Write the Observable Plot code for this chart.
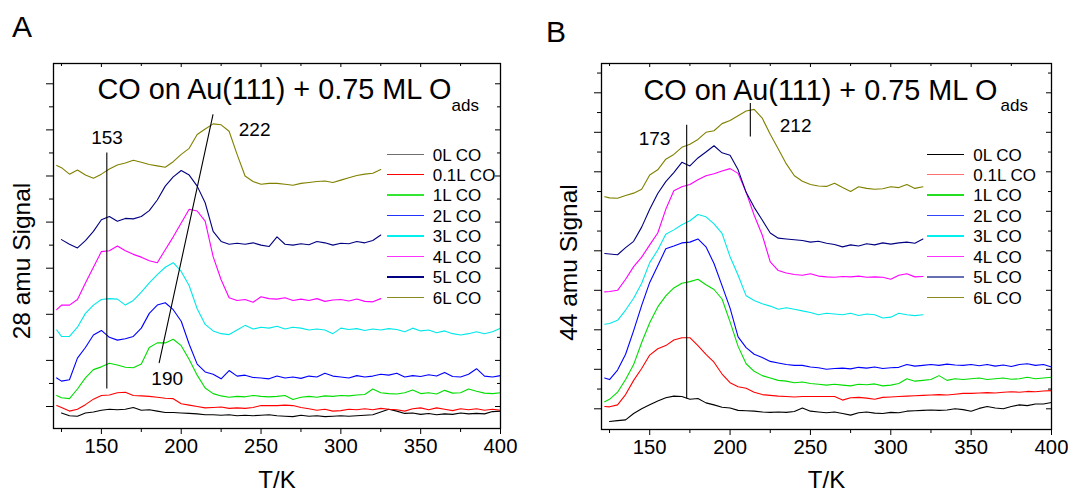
<!DOCTYPE html>
<html><head><meta charset="utf-8">
<script src="https://cdn.jsdelivr.net/npm/d3@7"></script>
<script src="https://cdn.jsdelivr.net/npm/@observablehq/plot@0.6"></script>
<style>
body{margin:0;background:#fff;font-family:"Liberation Sans",Arial,sans-serif;}
#wrap{position:relative;width:1068px;height:494px;overflow:hidden;background:#fff}
.panel{position:absolute;top:0}
.letter{position:absolute;font-size:30px;line-height:30px;color:#000}
.lg{position:absolute;font-size:17px;line-height:20.43px;color:#000;white-space:nowrap}
.lgline{position:absolute;width:37px;height:1.5px}
</style></head><body><div id="wrap"></div>
<script>
// temperature grid (K)
const T = [122,125,130,135,140,145,150,155,160,165,
 170,175,180,185,190,195,200,205,210,215,
 220,225,230,235,240,245,250,255,260,265,
 270,275,280,285,290,295,300,305,310,315,
 320,325,330,335,340,345,350,355,360,365,
 370,375,380,385,390,395,400];

const labels = ["0L CO","0.1L CO","1L CO","2L CO","3L CO","4L CO","5L CO","6L CO"];
const colors = ["#000000","#ff0000","#00dd00","#0000ff","#00e8e8","#ff00ff","#000080","#808000"];
const legendColorsA = ["#707070","#ff0000","#33e633","#2233ff","#00f0f0","#ff33ff","#000080","#8a8a20"];
const legendColorsB = ["#000000","#ff7070","#22dd22","#3344ff","#00f0f0","#ff33ff","#6670b0","#8a8a20"];

// Panel A: 28 amu signal
const A_0L = [null,-0.14,-0.20,-0.21,-0.14,-0.12,-0.08,-0.06,-0.07,-0.06,
 -0.02,-0.08,-0.07,-0.10,-0.13,-0.13,-0.14,-0.15,-0.16,-0.18,
 -0.18,-0.19,-0.18,-0.20,-0.19,-0.20,-0.19,-0.18,-0.20,-0.21,
 -0.22,-0.19,-0.21,-0.20,-0.22,-0.21,-0.20,-0.21,-0.20,-0.19,
 -0.18,-0.12,-0.06,-0.10,-0.15,-0.14,-0.17,-0.15,-0.18,-0.16,
 -0.17,-0.14,-0.16,-0.15,-0.16,-0.11,-0.10];
const A_01L = [0.02,-0.02,-0.10,-0.06,0.04,0.16,0.24,0.25,0.30,0.31,
 0.24,0.23,0.22,0.20,0.18,0.17,0.06,0.03,0.00,-0.03,
 -0.02,-0.01,-0.04,-0.03,-0.04,-0.02,0.02,0.02,0.02,0.03,
 0.02,-0.02,-0.05,-0.08,-0.06,-0.10,-0.09,-0.06,-0.07,-0.05,
 -0.07,-0.04,-0.06,-0.07,-0.10,-0.05,-0.03,-0.07,-0.03,-0.06,
 -0.09,-0.05,-0.07,-0.05,-0.08,-0.06,-0.08];
const A_1L = [0.24,0.19,0.17,0.38,0.62,0.80,0.86,0.94,0.90,0.85,
 0.84,0.92,1.28,1.38,1.38,1.46,1.32,1.02,0.68,0.40,
 0.28,0.23,0.20,0.22,0.21,0.24,0.22,0.21,0.22,0.24,
 0.15,0.20,0.22,0.20,0.23,0.22,0.24,0.23,0.25,0.26,
 0.38,0.30,0.28,0.27,0.30,0.36,0.28,0.30,0.27,0.35,
 0.29,0.30,0.38,0.33,0.29,0.28,0.30];
const A_2L = [0.62,0.55,0.58,1.05,1.28,1.55,1.65,1.50,1.44,1.47,
 1.52,1.70,2.02,2.20,2.25,2.10,1.85,1.35,0.92,0.75,
 0.70,0.60,0.78,0.66,0.68,0.63,0.62,0.60,0.66,0.62,
 0.64,0.61,0.66,0.64,0.72,0.66,0.64,0.62,0.67,0.64,
 0.66,0.70,0.68,0.72,0.64,0.67,0.65,0.69,0.66,0.74,
 0.65,0.64,0.70,0.82,0.66,0.64,0.67];
const A_3L = [1.66,1.52,1.52,1.72,2.02,2.20,2.32,2.34,2.33,2.20,
 2.30,2.48,2.68,2.86,3.02,3.12,2.93,2.62,2.12,1.78,
 1.64,1.58,1.56,1.66,1.76,1.68,1.72,1.70,1.74,1.68,
 1.72,1.70,1.66,1.68,1.66,1.58,1.70,1.67,1.69,1.65,
 1.68,1.66,1.69,1.67,1.62,1.70,1.64,1.66,1.60,1.64,
 1.58,1.55,1.58,1.62,1.58,1.62,1.70];
const A_4L = [2.10,2.20,2.20,2.32,2.68,3.02,3.36,3.38,3.48,3.38,
 3.30,3.24,3.16,3.12,3.40,3.68,3.98,4.28,4.24,4.02,
 3.25,2.75,2.36,2.30,2.32,2.26,2.38,2.34,2.33,2.36,
 2.30,2.33,2.30,2.34,2.28,2.31,2.32,2.29,2.33,2.28,
 2.27,2.34,null,null,null,null,null,null,null,null,
 null,null,null,null,null,null,null];
const A_5L = [null,3.62,3.52,3.44,3.60,3.80,4.05,4.12,4.02,4.08,
 4.07,4.12,4.25,4.48,4.78,4.98,5.12,5.02,4.78,4.42,
 3.80,3.58,3.52,3.54,3.52,3.55,3.50,3.47,3.68,3.52,
 3.50,3.53,3.51,3.58,3.55,3.50,3.54,3.53,3.58,3.55,
 3.60,3.72,null,null,null,null,null,null,null,null,
 null,null,null,null,null,null,null];
const A_6L = [5.23,5.18,5.04,5.13,5.02,4.95,5.04,5.15,5.24,5.28,
 5.34,5.30,5.25,5.22,5.19,5.31,5.47,5.60,5.90,6.02,
 6.13,6.11,5.97,5.47,5.00,4.88,4.82,4.84,4.84,4.82,
 4.80,4.84,4.86,4.88,4.89,4.86,4.91,4.96,5.01,5.04,
 5.06,5.14,null,null,null,null,null,null,null,null,
 null,null,null,null,null,null,null];

// Panel B: 44 amu signal
const B_0L = [null,-0.32,-0.30,-0.28,-0.12,0.00,0.10,0.20,0.28,0.32,
 0.31,0.24,0.26,0.15,0.10,0.04,0.02,-0.04,-0.05,-0.06,
 -0.08,-0.09,-0.08,-0.09,-0.07,0.02,-0.06,-0.08,-0.10,-0.08,
 -0.12,-0.16,-0.10,-0.08,-0.11,-0.12,-0.09,-0.10,-0.06,-0.05,
 -0.04,-0.03,-0.04,-0.03,0.00,-0.02,-0.06,0.01,0.06,0.02,
 0.00,0.06,0.10,0.08,0.12,0.12,0.16];
const B_01L = [0.06,0.05,0.10,0.36,0.72,1.02,1.36,1.52,1.60,1.74,
 1.80,1.80,1.60,1.38,1.18,0.88,0.66,0.56,0.52,0.42,
 0.36,0.34,0.32,0.31,0.30,0.31,0.31,0.31,0.31,0.31,
 0.22,0.28,0.29,0.27,0.24,0.29,0.30,0.31,0.32,0.33,
 0.34,0.35,0.36,0.35,0.37,0.39,0.39,0.40,0.41,0.40,
 0.42,0.43,0.42,0.44,0.43,0.45,0.46];
const B_1L = [0.18,0.24,0.42,0.74,1.12,1.68,2.18,2.58,2.86,3.06,
 3.18,3.22,3.28,3.14,3.02,2.78,2.20,1.58,1.14,0.95,
 0.84,0.78,0.72,0.70,0.66,0.68,0.64,0.62,0.60,0.62,
 0.60,0.58,0.62,0.61,0.63,0.58,0.60,0.64,0.76,0.70,
 0.72,0.74,0.84,0.72,0.76,0.74,0.76,0.78,0.74,0.76,
 0.78,0.75,0.76,0.80,0.76,0.78,0.80];
const B_2L = [0.78,0.74,0.98,1.38,1.98,2.62,3.20,3.62,4.05,4.12,
 4.20,4.22,4.30,4.10,3.68,3.12,2.55,1.82,1.55,1.38,
 1.30,1.20,1.16,1.12,1.10,1.10,1.06,1.04,1.00,1.02,
 1.03,1.01,1.05,1.03,1.06,1.02,1.04,1.05,1.12,1.08,
 1.10,1.12,1.10,1.13,1.11,1.10,1.12,1.09,1.12,1.08,
 1.11,1.07,1.12,1.14,1.10,1.12,1.06];
const B_3L = [2.14,2.16,2.24,2.50,2.80,3.18,3.70,4.02,4.42,4.53,
 4.66,4.76,4.92,4.86,4.68,4.44,3.85,3.38,2.86,2.74,
 2.66,2.60,2.52,2.56,2.52,2.48,2.44,2.38,2.42,2.40,
 2.38,2.42,2.36,2.40,2.38,2.30,2.32,2.42,2.38,2.36,
 2.38,null,null,null,null,null,null,null,null,null,
 null,null,null,null,null,null,null];
const B_4L = [2.96,2.97,3.00,3.28,3.60,3.84,4.15,4.45,5.05,5.52,
 5.62,5.68,5.80,5.90,5.95,6.02,6.08,5.96,5.48,4.90,
 4.40,3.72,3.50,3.44,3.40,3.38,3.42,3.36,3.34,3.33,
 3.35,3.34,3.36,3.33,3.34,3.33,3.28,3.38,3.42,3.34,
 3.35,null,null,null,null,null,null,null,null,null,
 null,null,null,null,null,null,null];
const B_5L = [3.93,3.92,3.90,4.08,4.24,4.60,5.05,5.45,5.75,5.98,
 6.24,6.15,6.35,6.50,6.66,6.48,6.42,6.05,5.48,5.10,
 4.78,4.45,4.32,4.30,4.28,4.26,4.22,4.24,4.19,4.16,
 4.10,4.15,4.12,4.18,4.15,4.20,4.17,4.20,4.22,4.19,
 4.30,null,null,null,null,null,null,null,null,null,
 null,null,null,null,null,null,null];
const B_6L = [5.37,5.34,5.33,5.40,5.46,5.56,5.92,6.05,6.32,6.44,
 6.62,6.70,6.82,7.00,7.04,7.22,7.30,7.42,7.54,7.58,
 7.36,6.95,6.58,6.20,5.90,5.76,5.68,5.64,5.63,5.71,
 5.60,5.50,5.62,5.58,5.56,5.57,5.62,5.60,5.68,5.58,
 5.62,null,null,null,null,null,null,null,null,null,
 null,null,null,null,null,null,null];

const xMajor = [150,200,250,300,350,400];
const xMinor = [125,175,225,275,325,375];
const yMajorA = [0,1,2,3,4,5,6,7];
const yMinorA = [0.5,1.5,2.5,3.5,4.5,5.5,6.5];
const yMajorB = [0,1,2,3,4,5,6,7,8];
const yMinorB = [0.5,1.5,2.5,3.5,4.5,5.5,6.5,7.5,8.5];

// annotations
const A_rules = [{T:153.4, from:0.38, to:5.50}];
const A_slope = [{T:186.2, v:0.95}, {T:219.9, v:6.33}];
const A_notes = [{T:153.5, v:5.70, text:"153"}, {T:246, v:5.87, text:"222"}, {T:191.2, v:0.46, text:"190"}];
const B_rules = [{T:173, from:0.25, to:7.18}, {T:212.6, from:6.88, to:7.73}];
const B_slope = [];
const B_notes = [{T:153, v:6.68, text:"173"}, {T:240.8, v:7.0, text:"212"}];

const FONT = '"Liberation Sans", Arial, sans-serif';

function panel(cfg) {
  const W = 534, H = 494;
  const {ml, mr, mt, mb} = cfg;
  const innerW = W - ml - mr, innerH = H - mt - mb;
  const marks = [];
  cfg.series.forEach((s, k) => {
    marks.push(Plot.line(T.map((t, i) => ({T: t, v: s[i]})), {x: "T", y: "v", stroke: colors[k], strokeWidth: 1.1}));
  });
  cfg.rules.forEach(r => marks.push(Plot.ruleX([r], {x: "T", y1: "from", y2: "to", stroke: "#000", strokeWidth: 1.1})));
  if (cfg.slope.length) marks.push(Plot.line(cfg.slope, {x: "T", y: "v", stroke: "#000", strokeWidth: 1.1}));
  marks.push(Plot.text(cfg.notes, {x: "T", y: "v", text: "text", fontSize: 19, lineAnchor: "bottom", fill: "#000"}));
  // title
  marks.push(Plot.text(["CO on Au(111) + 0.75 ML O"], {text: d => d, frameAnchor: "top-left", textAnchor: "start", lineAnchor: "bottom", dx: cfg.titleDx, dy: cfg.titleDy, fontSize: 28.8, fill: "#000"}));
  marks.push(Plot.text(["ads"], {text: d => d, frameAnchor: "top-left", textAnchor: "start", lineAnchor: "bottom", dx: cfg.subDx, dy: cfg.subDy, fontSize: 17, fill: "#000"}));
  // axis labels
  marks.push(Plot.text(["T/K"], {text: d => d, frameAnchor: "bottom", textAnchor: "middle", lineAnchor: "bottom", dy: cfg.xlabDy, fontSize: 24, fill: "#000"}));
  marks.push(Plot.text([cfg.ylabel], {text: d => d, frameAnchor: "left", textAnchor: "middle", lineAnchor: "middle", rotate: -90, dx: cfg.ylabDx, dy: cfg.ylabDy, fontSize: 24.5, fill: "#000"}));
  // axes
  marks.push(Plot.axisX(xMajor, {tickSize: 6, tickPadding: 4, fontSize: 20.3, label: null, stroke: "#000"}));
  marks.push(Plot.axisX(xMinor, {tickSize: 4, tickFormat: () => "", label: null, stroke: "#000"}));
  marks.push(Plot.axisY(cfg.yMajor, {tickSize: 7, tickFormat: () => "", label: null, stroke: "#000"}));
  marks.push(Plot.axisY(cfg.yMinor, {tickSize: 4, tickFormat: () => "", label: null, stroke: "#000"}));
  marks.push(Plot.tickX(xMajor, {x: d => d, insetBottom: innerH - 4, stroke: "#000"}));
  marks.push(Plot.tickX(xMinor, {x: d => d, insetBottom: innerH - 3, stroke: "#000"}));
  marks.push(Plot.tickY(cfg.yMajor, {y: d => d, insetLeft: innerW - 5, stroke: "#000"}));
  marks.push(Plot.tickY(cfg.yMinor, {y: d => d, insetLeft: innerW - 3, stroke: "#000"}));
  marks.push(Plot.frame({stroke: "#000", strokeWidth: 1.3}));
  return Plot.plot({
    width: W, height: H,
    marginLeft: ml, marginRight: mr, marginTop: mt, marginBottom: mb,
    x: {domain: [120, 400]},
    y: {domain: cfg.yDomain},
    style: {fontFamily: FONT, fontSize: "20px", color: "#000", background: "transparent", overflow: "visible"},
    marks
  });
}

const wrap = document.getElementById("wrap");

const svgA = panel({
  series: [A_0L, A_01L, A_1L, A_2L, A_3L, A_4L, A_5L, A_6L],
  yDomain: [-0.477, 7.44], yMajor: yMajorA, yMinor: yMinorA,
  ml: 53, mr: 34, mt: 63, mb: 66,
  rules: A_rules, slope: A_slope, notes: A_notes,
  titleDx: 44, titleDy: 35, subDx: 398, subDy: 47.5,
  xlabDy: 59.5, ylabel: "28 amu Signal", ylabDx: -31, ylabDy: 15
});
const svgB = panel({
  series: [B_0L, B_01L, B_1L, B_2L, B_3L, B_4L, B_5L, B_6L],
  yDomain: [-0.524, 8.742], yMajor: yMajorB, yMinor: yMinorB,
  ml: 67, mr: 17, mt: 63, mb: 65,
  rules: B_rules, slope: B_slope, notes: B_notes,
  titleDx: 42, titleDy: 36, subDx: 399, subDy: 47,
  xlabDy: 58.5, ylabel: "44 amu Signal", ylabDx: -32, ylabDy: 16
});

function place(el, left) {
  const d = document.createElement("div");
  d.className = "panel";
  d.style.left = left + "px";
  d.appendChild(el);
  wrap.appendChild(d);
}
place(svgA, 0);
place(svgB, 534);

function letter(txt, left, top) {
  const d = document.createElement("div");
  d.className = "letter";
  d.textContent = txt;
  d.style.left = left + "px";
  d.style.top = top + "px";
  wrap.appendChild(d);
}
letter("A", 12, 11.6);
letter("B", 546, 16.6);

function legend(lineX, textX, rowTop0, lineOffset, cols) {
  labels.forEach((lab, i) => {
    const top = rowTop0 + i * 20.43;
    const ln = document.createElement("div");
    ln.className = "lgline";
    ln.style.left = lineX + "px";
    ln.style.top = (top + lineOffset - 0.75) + "px";
    ln.style.background = cols[i];
    wrap.appendChild(ln);
    const t = document.createElement("div");
    t.className = "lg";
    t.style.left = textX + "px";
    t.style.top = top + "px";
    t.textContent = lab;
    wrap.appendChild(t);
  });
}
legend(386.7, 432.7, 145.5, 8.8, legendColorsA);
legend(926.7, 973.3, 145.5, 8.8, legendColorsB);
</script>
</body></html>
